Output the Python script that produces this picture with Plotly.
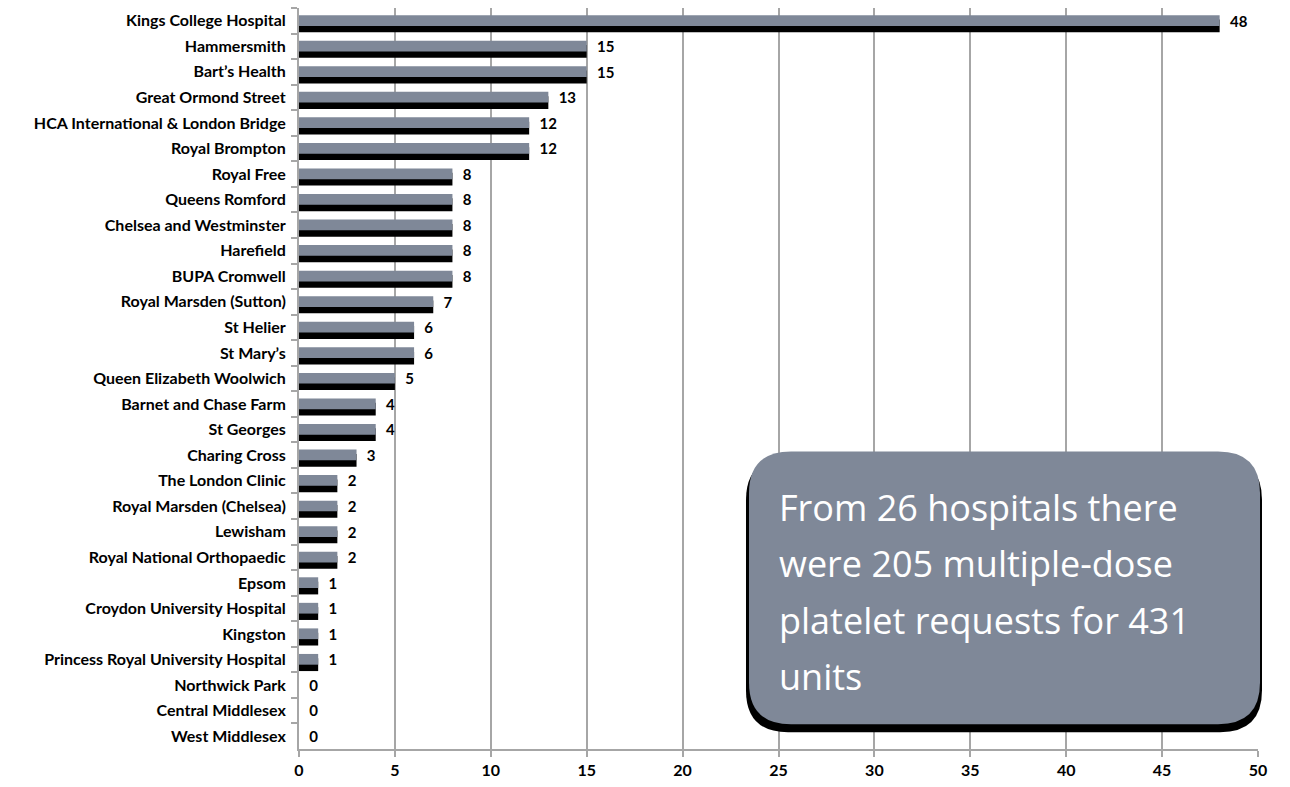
import plotly.graph_objects as go

hospitals = [
    "Kings College Hospital", "Hammersmith", "Bart\u2019s Health", "Great Ormond Street",
    "HCA International & London Bridge", "Royal Brompton", "Royal Free", "Queens Romford",
    "Chelsea and Westminster", "Harefield", "BUPA Cromwell", "Royal Marsden (Sutton)",
    "St Helier", "St Mary\u2019s", "Queen Elizabeth Woolwich", "Barnet and Chase Farm",
    "St Georges", "Charing Cross", "The London Clinic", "Royal Marsden (Chelsea)",
    "Lewisham", "Royal National Orthopaedic", "Epsom", "Croydon University Hospital",
    "Kingston", "Princess Royal University Hospital", "Northwick Park",
    "Central Middlesex", "West Middlesex",
]
requests = [48, 15, 15, 13, 12, 12, 8, 8, 8, 8, 8, 7, 6, 6, 5, 4, 4, 3, 2, 2, 2, 2,
            1, 1, 1, 1, 0, 0, 0]
x_ticks = [0, 5, 10, 15, 20, 25, 30, 35, 40, 45, 50]
note_lines = ["From 26 hospitals there", "were 205 multiple-dose",
              "platelet requests for 431", "units"]

W, H = 1290, 787
ML, MR, MT, MB = 299, 32, 8, 32
PW, PH = W - ML - MR, H - MT - MB

BAR = "#7f8898"
GRID = "#a6a6a6"

fig = go.Figure()
fig.add_trace(go.Bar(
    y=hospitals, x=requests, orientation="h",
    marker=dict(color="#000000", line=dict(width=0)),
    width=0.5, offset=-0.05, hoverinfo="skip", showlegend=False,
))
fig.add_trace(go.Bar(
    y=hospitals, x=requests, orientation="h",
    marker=dict(color=BAR, line=dict(width=0)),
    width=0.42, offset=-0.22,
    text=requests, texttemplate="  %{x}", textposition="outside",
    constraintext="none",
    textfont=dict(family="Lato", size=15, color="#000000", weight="bold"),
    cliponaxis=False, showlegend=False,
))


def px2paper(x, y):
    return (x - ML) / PW, 1 - (y - MT) / PH


def rounded(x0, y0, x1, y1, r):
    def P(x, y):
        px, py = px2paper(x, y)
        return f"{px:.5f},{py:.5f}"
    path = (f"M {P(x0 + r, y0)} L {P(x1 - r, y0)} Q {P(x1, y0)} {P(x1, y0 + r)} "
            f"L {P(x1, y1 - r)} Q {P(x1, y1)} {P(x1 - r, y1)} "
            f"L {P(x0 + r, y1)} Q {P(x0, y1)} {P(x0, y1 - r)} "
            f"L {P(x0, y0 + r)} Q {P(x0, y0)} {P(x0 + r, y0)} Z")
    return path


shapes = [
    dict(type="path", xref="paper", yref="paper", path=rounded(746, 462, 1262, 738, 42),
         fillcolor="#000000", line=dict(width=0), layer="above"),
    dict(type="path", xref="paper", yref="paper", path=rounded(749, 455, 1260, 730, 42),
         fillcolor=BAR, line=dict(width=0), layer="above"),
]

annotations = []
line_y = [512, 568, 625, 682]
for txt, yy in zip(note_lines, line_y):
    ax, ay = px2paper(777, yy)
    annotations.append(dict(
        x=ax, y=ay, xref="paper", yref="paper", text=txt, showarrow=False,
        xanchor="left", yanchor="middle",
        font=dict(family="Open Sans", size=36, color="#ffffff"),
    ))

fig.update_layout(
    width=W, height=H, margin=dict(l=ML, r=MR, t=MT, b=MB),
    paper_bgcolor="#ffffff", plot_bgcolor="#ffffff",
    barmode="overlay", bargap=0.3,
    shapes=shapes, annotations=annotations,
    xaxis=dict(range=[0, 50], tickvals=x_ticks, showgrid=True, gridcolor=GRID, gridwidth=2,
               showline=True, linecolor=GRID, linewidth=2, ticks="outside", ticklen=6,
               tickcolor=GRID, tickwidth=2, zeroline=False,
               tickfont=dict(family="Lato", size=16, color="#000000", weight="bold")),
    yaxis=dict(type="category", categoryorder="array", categoryarray=hospitals,
               autorange="reversed", showline=True, linecolor=GRID, linewidth=2,
               ticks="outside", tickson="boundaries", ticklen=6, tickcolor=GRID, tickwidth=2,
               showgrid=False, ticklabelstandoff=8,
               tickfont=dict(family="Lato", size=16, color="#000000", weight="bold")),
    font=dict(family="Lato"),
)

fig.write_html("out.html")
